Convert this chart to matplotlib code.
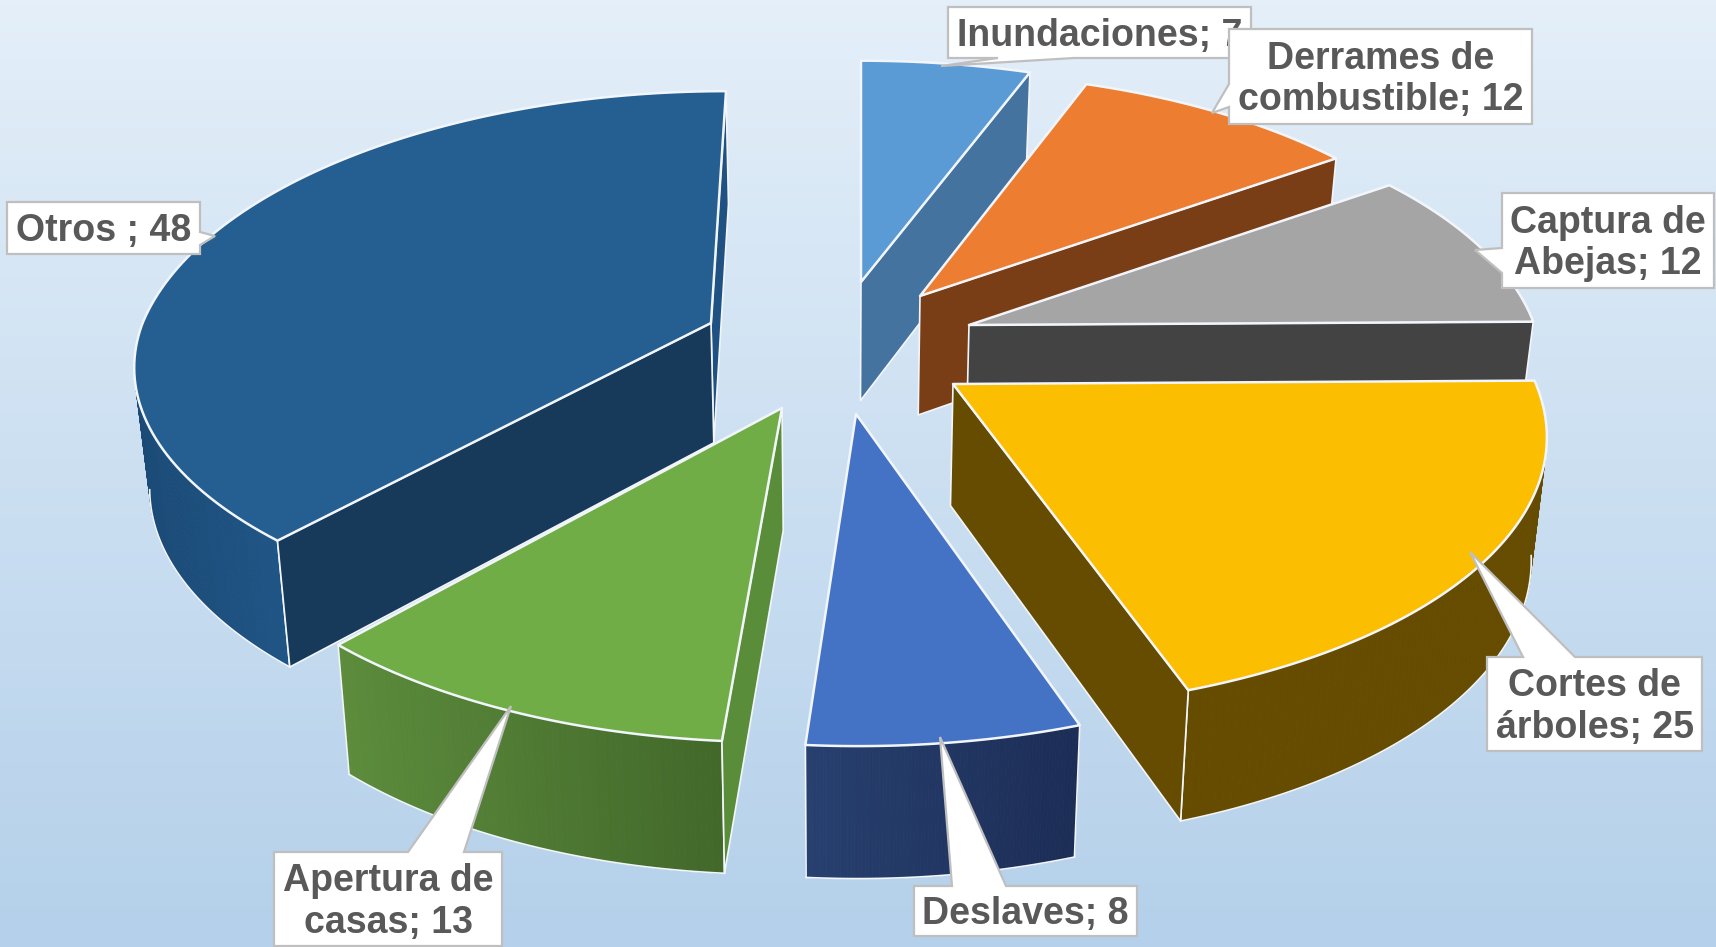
import numpy as np
import matplotlib
matplotlib.use("Agg")
import matplotlib.pyplot as plt
from matplotlib.patches import Polygon
from matplotlib.colors import to_rgb

# data
categories = ["Inundaciones", "Derrames de\ncombustible", "Captura de\nAbejas", "Cortes de\nárboles",
              "Deslaves", "Apertura de\ncasas", "Otros "]
values = [7, 12, 12, 25, 8, 13, 48]

# slice colours: top, wall from the start edge, wall from the end edge, curved wall (left, right)
top_colors = ["#5b9bd5", "#ed7d31", "#a5a5a5", "#fbbe00", "#4472c4", "#70ad47", "#255e91"]
start_wall = [None, None, None, None, None, "#5a8d39", "#173a5b"]
end_wall = ["#44739f", "#7a3e17", "#434343", "#664c00", None, None, "#1f5283"]
arc_colors = [None, None, None, ("#664c00", "#664c00"), ("#27406f", "#1c2d56"),
              ("#5c8c3c", "#42682a"), ("#1b4a76", "#1f5585")]

# layout of the exploded slices: apex in pixels, scale and shear of each slice
apex = [(861, 282), (920, 296), (969, 325), (953, 384), (856, 414), (782, 408), (711, 323)]
scale_x = [0.98, 0.965, 0.975, 1.005, 1.0, 0.99, 0.98]
scale_y_up = [0.945, 0.955, 0.97, 0.99, 1.0, 1.0, 0.99]
scale_y_down = [1.0, 1.0, 1.0, 0.99, 1.006, 1.012, 0.93]
skew_up = [0, 0, 0, 0, 0, 0, 15]
skew_down = [0, 0, 0, -13, -2, 8, 0]
RX, RY, K = 580, 274, 0.17

# label boxes: x0, y0, x1, y1, callout tip, callout base
boxes = [
    (948, 7, 1251, 58, (941, 66), [(1074, 58), (998, 58)]),
    (1229, 29, 1532, 124, (1212, 113), [(1229, 84), (1229, 107)]),
    (1502, 193, 1714, 288, (1475, 250), [(1502, 248), (1502, 273)]),
    (1487, 657, 1702, 751, (1470, 552), [(1523, 657), (1575, 657)]),
    (914, 886, 1137, 936, (940, 737), [(952, 886), (1006, 886)]),
    (274, 852, 502, 946, (511, 706), [(408, 852), (464, 852)]),
    (7, 202, 200, 254, (215, 236), [(200, 232), (200, 245)]),
]


def rim(i, theta):
    s = np.sin(theta)
    w = 1 + K * s
    sy = np.where(s > 0, scale_y_up[i], scale_y_down[i])
    skew = np.where(s > 0, skew_up[i], skew_down[i])
    x = apex[i][0] + scale_x[i] * RX * np.cos(theta) / w + skew * s
    y = apex[i][1] - sy * RY * s / w
    return np.column_stack([x, y])


def down(pts):
    # bottom face of the slab, seen a bit smaller than the top
    pts = np.atleast_2d(pts)
    x = 838 + (pts[:, 0] - 838) * 0.978
    y = pts[:, 1] + 120 + (pts[:, 1] - 330) * 0.03
    return np.column_stack([x, y])


fig = plt.figure(figsize=(17.16, 9.47), dpi=100)
ax = fig.add_axes([0, 0, 1, 1])
ax.set_xlim(0, 1716)
ax.set_ylim(947, 0)
ax.axis("off")

# background gradient
c0, c1 = np.array(to_rgb("#e4eff9")), np.array(to_rgb("#b4d0ea"))
t = np.linspace(0, 1, 256)[:, None, None]
ax.imshow(c0 + (c1 - c0) * t, extent=(0, 1716, 947, 0), aspect="auto", zorder=0)

# angles go clockwise from 12 o'clock
ends = 90 - 360 * np.cumsum(values) / np.sum(values)
starts = np.r_[90, ends[:-1]]

edge = "#f2f6fb"
order = [0, 1, 2, 3, 6, 5, 4]
z = 1
for i in order:
    th = np.radians(np.linspace(starts[i], ends[i], 120))
    top = rim(i, th)
    a = np.array(apex[i], dtype=float)

    # curved wall, only the part that faces the front
    if arc_colors[i] is not None:
        lo = max(ends[i], -170)
        hi = min(starts[i], -10)
        tw = np.radians(np.linspace(hi, lo, 80))
        up = rim(i, tw)
        dn = down(up)
        cl, cr = np.array(to_rgb(arc_colors[i][0])), np.array(to_rgb(arc_colors[i][1]))
        xmin, xmax = up[:, 0].min(), up[:, 0].max()
        for j in range(len(tw) - 1):
            f = (up[j, 0] - xmin) / (xmax - xmin)
            col = cl + (cr - cl) * f
            ax.add_patch(Polygon([up[j], up[j + 1], dn[j + 1], dn[j]], fc=col, ec=col, lw=0.6, zorder=z))
        ax.plot(dn[:, 0], dn[:, 1], color=edge, lw=1.2, zorder=z + 0.1)
        # side lines only where the wall really ends, not where it was cut
        if hi == starts[i]:
            ax.plot([up[0, 0], dn[0, 0]], [up[0, 1], dn[0, 1]], color=edge, lw=1.2, zorder=z + 0.1)
        if lo == ends[i]:
            ax.plot([up[-1, 0], dn[-1, 0]], [up[-1, 1], dn[-1, 1]], color=edge, lw=1.2, zorder=z + 0.1)

    # flat walls
    for col, p in ((end_wall[i], top[-1]), (start_wall[i], top[0])):
        if col is None:
            continue
        quad = np.vstack([a, p, down(p), down(a)])
        ax.add_patch(Polygon(quad, fc=col, ec=edge, lw=1.2, joinstyle="round", zorder=z + 0.2))

    # top face
    ax.add_patch(Polygon(np.vstack([a, top]), fc=top_colors[i], ec=edge, lw=1.8, joinstyle="round", zorder=z + 0.3))
    z += 1

# data labels
for k, (cat, val, b) in enumerate(zip(categories, values, boxes)):
    x0, y0, x1, y1, tip, base = b
    # walk around the box and put the callout into the edge it leaves from
    if base[0][1] == y1:
        pts = [(x0, y0), (x1, y0), (x1, y1), base[0], tip, base[1], (x0, y1)]
    elif base[0][1] == y0:
        pts = [(x0, y0), base[0], tip, base[1], (x1, y0), (x1, y1), (x0, y1)]
    elif base[0][0] == x0:
        pts = [(x0, y0), (x1, y0), (x1, y1), (x0, y1), base[1], tip, base[0]]
    else:
        pts = [(x0, y0), (x1, y0), base[0], tip, base[1], (x1, y1), (x0, y1)]
    ax.add_patch(Polygon(pts, fc="white", ec="#bfbfbf", lw=1.6, zorder=20 + k))
    ax.text((x0 + x1) / 2, (y0 + y1) / 2 + 3, f"{cat}; {val}", ha="center", va="center", ma="center",
            fontsize=27, fontweight="bold", family="Liberation Sans", color="#595959",
            linespacing=1.18, zorder=20.5 + k)

fig.savefig("out.png", dpi=100)
